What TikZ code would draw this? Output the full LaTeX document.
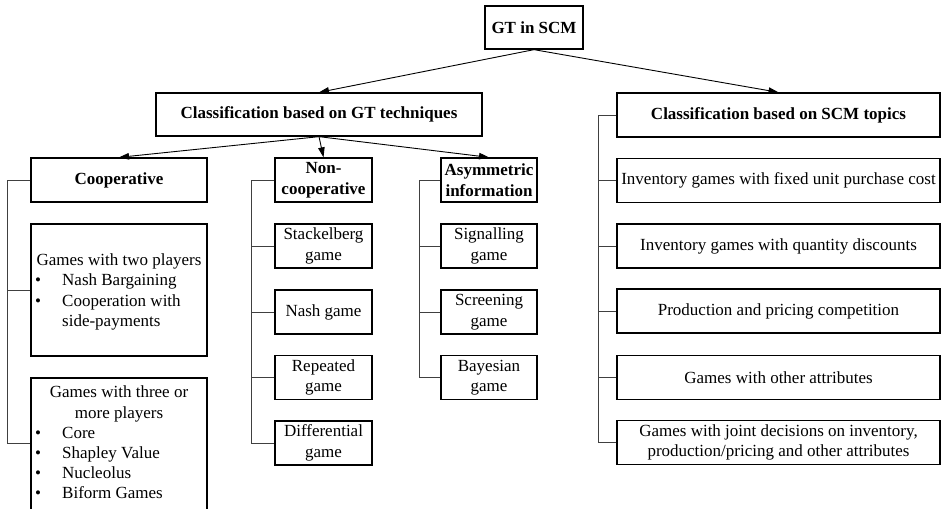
\documentclass[tikz,border=0pt]{standalone}
\usepackage{fontspec}
\setmainfont{Liberation Serif}
\usetikzlibrary{arrows.meta}
\newcommand\fsz{\fontsize{17}{20.5}\selectfont}
\begin{document}
\begin{tikzpicture}[x=1pt,y=-1pt,
  box/.style={draw, line width=1.3pt, inner sep=0pt, align=center, font=\fsz},
  hdr/.style={box, font=\fsz\bfseries},
  colnc/.style={minimum width=97pt, minimum height=44pt},
  colas/.style={minimum width=96pt, minimum height=44pt},
  colsc/.style={minimum width=323pt, minimum height=44pt},
  txt/.style={inner sep=0pt, anchor=base, font=\fsz},
  itm/.style={inner sep=0pt, anchor=base west, font=\fsz},
  arr/.style={line width=0.9pt, -{Triangle[length=10pt,width=6.5pt]}},
  brk/.style={line width=0.8pt, draw=black!75},
]
\useasboundingbox (0,0) rectangle (941,508);
\fill[white] (0,0) rectangle (941,508);

% top levels
\node[hdr, minimum width=98pt, minimum height=43pt] (gt) at (534,27.5) {GT in SCM};
\node[hdr, minimum width=326pt, minimum height=43pt] (tech) at (319,114.5) {Classification based on GT techniques};
\node[hdr, minimum width=323pt, minimum height=44pt] (scm) at (778.5,115) {Classification based on SCM topics};

% cooperative column
\node[hdr, minimum width=176pt, minimum height=44pt] (coop) at (119,180) {Cooperative};
\node[box, minimum width=176pt, minimum height=132pt] (two) at (119,290) {};
\node[box, minimum width=176pt, minimum height=136pt] (three) at (119,446) {};

\node[txt] (t0) at (119,265) {Games with two players};
\node[txt] (tb1) at (38,285) {\textbullet};
\node[itm] (ti1) at (62,285) {Nash Bargaining};
\node[txt] (tb2) at (38,306) {\textbullet};
\node[itm] (ti2) at (62,306) {Cooperation with};
\node[itm] (ti3) at (62,326) {side-payments};

\node[txt] (h0) at (119,397) {Games with three or};
\node[txt] (h1) at (119,418) {more players};
\node[txt] (hb1) at (38,438) {\textbullet};
\node[itm] (hi1) at (62,438) {Core};
\node[txt] (hb2) at (38,458) {\textbullet};
\node[itm] (hi2) at (62,458) {Shapley Value};
\node[txt] (hb3) at (38,478) {\textbullet};
\node[itm] (hi3) at (62,478) {Nucleolus};
\node[txt] (hb4) at (38,498) {\textbullet};
\node[itm] (hi4) at (62,498) {Biform Games};

% non-cooperative column
\node[hdr, colnc] (nc) at (323.5,180) {Non-\\cooperative};
\node[box, colnc] (s1) at (323.5,246) {Stackelberg\\game};
\node[box, colnc] (s2) at (323.5,312) {Nash game};
\node[box, colnc] (s3) at (323.5,377.5) {Repeated\\game};
\node[box, colnc] (s4) at (323.5,443) {Differential\\game};

% asymmetric column
\node[hdr, colas] (as) at (489,180) {Asymmetric\\information};
\node[box, colas] (a1) at (489,246) {Signalling\\game};
\node[box, colas] (a2) at (489,312) {Screening\\game};
\node[box, colas] (a3) at (489,377.5) {Bayesian\\game};

% SCM column
\node[box, colsc] (r1) at (778.5,180.5) {Inventory games with fixed unit purchase cost};
\node[box, colsc] (r2) at (778.5,246) {Inventory games with quantity discounts};
\node[box, colsc] (r3) at (778.5,311) {Production and pricing competition};
\node[box, colsc] (r4) at (778.5,377.5) {Games with other attributes};
\node[box, colsc] (r5) at (778.5,442.5) {Games with joint decisions on inventory,\\production/pricing and other attributes};

% arrows
\draw[arr] (gt.south) -- (tech.north);
\draw[arr] (gt.south) -- (scm.north);
\draw[arr] (tech.south) -- (coop.north);
\draw[arr] (tech.south) -- (nc.north);
\draw[arr] (tech.south) -- (as.north);

% brackets
\coordinate (bc) at (7,0);
\coordinate (bn) at (251,0);
\coordinate (ba) at (419,0);
\coordinate (bs) at (598,0);
\coordinate (tw) at ([yshift=3pt]three.west);

\draw[brk] (coop.west) -- (coop.west -| bc) -- (tw -| bc) -- (tw);
\draw[brk] (two.west) -- (two.west -| bc);

\draw[brk] (nc.west) -- (nc.west -| bn) -- (s4.west -| bn) -- (s4.west);
\foreach \n in {s1,s2,s3} \draw[brk] (\n.west) -- (\n.west -| bn);

\draw[brk] (as.west) -- (as.west -| ba) -- (a3.west -| ba) -- (a3.west);
\foreach \n in {a1,a2} \draw[brk] (\n.west) -- (\n.west -| ba);

\draw[brk] (scm.west) -- (scm.west -| bs) -- (r5.west -| bs) -- (r5.west);
\foreach \n in {r1,r2,r3,r4} \draw[brk] (\n.west) -- (\n.west -| bs);
\end{tikzpicture}
\end{document}
